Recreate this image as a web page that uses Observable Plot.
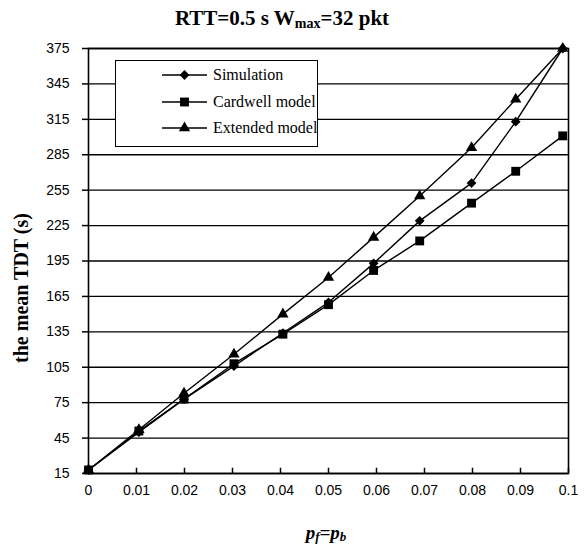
<!DOCTYPE html>
<html><head><meta charset="utf-8">
<script src="https://cdn.jsdelivr.net/npm/d3@7"></script>
<script src="https://cdn.jsdelivr.net/npm/@observablehq/plot@0.6"></script>
<style>
body{margin:0;background:#fff;}
#wrap{position:relative;width:587px;height:545px;overflow:hidden;}
#title{position:absolute;left:0;width:564px;top:6px;text-align:center;font-family:"Liberation Serif",serif;font-weight:bold;font-size:21px;color:#000;white-space:nowrap;}
#title sub{font-size:14px;vertical-align:-3px;}
#ylab{position:absolute;left:21px;top:288px;transform:translate(-50%,-50%) rotate(-90deg);font-family:"Liberation Serif",serif;font-weight:bold;font-size:20px;white-space:nowrap;}
#xlab{position:absolute;left:326px;top:533px;transform:translate(-50%,-50%);font-family:"Liberation Serif",serif;font-weight:bold;font-style:italic;font-size:19px;white-space:nowrap;}
#xlab sub{font-size:13px;vertical-align:-2px;}
#legend{position:absolute;left:115px;top:60px;width:201px;height:85px;border:1.5px solid #000;background:#fff;font-family:"Liberation Serif",serif;font-size:16px;}
.row{position:absolute;left:45px;height:20px;display:flex;align-items:center;white-space:nowrap;width:170px;}
.row svg{margin-right:6px;flex:none;}
</style>
</head><body>
<div id="wrap">
<div id="chart"></div>
<div id="title">RTT=0.5 s W<sub>max</sub>=32 pkt</div>
<div id="ylab">the mean TDT (s)</div>
<div id="xlab"><i>p</i><sub>f</sub>=<i>p</i><sub>b</sub></div>
<div id="legend"></div>
</div>
<script>
const seriesNames = ["Simulation", "Cardwell model", "Extended model"];
const pf = [0, 0.0105, 0.0199, 0.0303, 0.0405, 0.05, 0.0594, 0.069, 0.0798, 0.089, 0.0988];
const simulation = [18, 50, 78, 106, 134, 160, 193, 229, 261, 313, 375];
const cardwell = [18, 51, 78, 108, 133, 158, 187, 212, 244, 271, 301];
const extended = [18, 52, 83, 116, 150, 181, 215, 250, 291, 332, 375];
const xTicks = [0, 0.01, 0.02, 0.03, 0.04, 0.05, 0.06, 0.07, 0.08, 0.09, 0.1];
const xTickLabels = ["0", "0.01", "0.02", "0.03", "0.04", "0.05", "0.06", "0.07", "0.08", "0.09", "0.1"];
const yTicks = [15, 45, 75, 105, 135, 165, 195, 225, 255, 285, 315, 345, 375];

const symbols = ["diamond2", "square", "triangle"];
const radii = [4.4, 5, 4.2];
const allSeries = [simulation, cardwell, extended];
const rows = [];
allSeries.forEach((vals, s) => vals.forEach((v, i) => rows.push({series: seriesNames[s], x: pf[i], y: v, s})));

const marks = [
  Plot.ruleY(yTicks, {stroke: "black", strokeWidth: 1.3}),
  Plot.frame({stroke: "black", strokeWidth: 1.6}),
  Plot.axisY({ticks: yTicks, tickSize: 6, tickPadding: 13, strokeWidth: 1.5, label: null, tickFormat: d => String(d)}),
  Plot.axisX({ticks: xTicks, tickSize: 0, tickPadding: 12, label: null, tickFormat: d => xTickLabels[xTicks.indexOf(d)]}),
  Plot.ruleX(xTicks, {y1: 15, y2: 19.5, stroke: "black", strokeWidth: 1.5})
];
seriesNames.forEach((name, s) => {
  const d = rows.filter(r => r.s === s);
  marks.push(Plot.line(d, {x: "x", y: "y", stroke: "black", strokeWidth: 1.4}));
  marks.push(Plot.dot(d, {x: "x", y: "y", symbol: symbols[s], r: radii[s], fill: "black", stroke: "none"}));
});

const chart = Plot.plot({
  width: 587, height: 545,
  marginTop: 48, marginRight: 19, marginBottom: 72, marginLeft: 88,
  x: {domain: [0, 0.1]},
  y: {domain: [15, 375]},
  style: {fontFamily: "'Liberation Sans', Arial, sans-serif", fontSize: "14px", color: "black", background: "white"},
  marks
});
document.getElementById("chart").appendChild(chart);

// legend
const d3sym = {diamond2: d3.symbolDiamond2, square: d3.symbolSquare, triangle: d3.symbolTriangle};
const leg = document.getElementById("legend");
const rowTops = [4, 31, 57];
seriesNames.forEach((name, s) => {
  const row = document.createElement("div");
  row.className = "row";
  row.style.top = rowTops[s] + "px";
  const path = d3.symbol(d3sym[symbols[s]], Math.PI * radii[s] * radii[s])();
  row.innerHTML = `<svg width="46" height="20"><line x1="1" x2="46" y1="10" y2="10" stroke="black" stroke-width="1.4"/><path d="${path}" transform="translate(23.5,10)" fill="black"/></svg><span>${name}</span>`;
  leg.appendChild(row);
});
</script>
</body></html>
